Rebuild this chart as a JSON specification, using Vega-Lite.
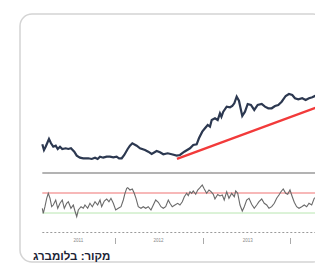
{
  "$schema": "https://vega.github.io/schema/vega-lite/v6.json",
  "width": 315,
  "height": 269,
  "autosize": {"type": "fit", "contains": "padding"},
  "padding": {"left": 20, "top": 14, "right": -10, "bottom": 7},
  "background": "white",
  "config": {
    "view": {"stroke": "#d4d4d4", "strokeWidth": 1.5, "cornerRadius": 12}
  },
  "datasets": {
    "price": [
      {"t": 2011.170, "v": 82.81}, {"t": 2011.189, "v": 80.39}, {"t": 2011.208, "v": 81.79}, {"t": 2011.246, "v": 85.06},
      {"t": 2011.269, "v": 83.24}, {"t": 2011.295, "v": 81.79}, {"t": 2011.323, "v": 82.22}, {"t": 2011.346, "v": 80.82},
      {"t": 2011.372, "v": 81.79}, {"t": 2011.398, "v": 80.82}, {"t": 2011.437, "v": 81.12}, {"t": 2011.467, "v": 80.82},
      {"t": 2011.497, "v": 81.12}, {"t": 2011.535, "v": 79.67}, {"t": 2011.563, "v": 77.98}, {"t": 2011.600, "v": 77.13},
      {"t": 2011.638, "v": 76.87}, {"t": 2011.695, "v": 76.87}, {"t": 2011.734, "v": 76.58}, {"t": 2011.772, "v": 77.13},
      {"t": 2011.802, "v": 76.58}, {"t": 2011.829, "v": 77.55}, {"t": 2011.866, "v": 77.13}, {"t": 2011.905, "v": 77.55},
      {"t": 2011.943, "v": 77.55}, {"t": 2011.981, "v": 77.30}, {"t": 2012.019, "v": 77.55}, {"t": 2012.046, "v": 76.87},
      {"t": 2012.077, "v": 76.87}, {"t": 2012.106, "v": 78.27}, {"t": 2012.145, "v": 80.82}, {"t": 2012.171, "v": 82.22},
      {"t": 2012.198, "v": 83.24}, {"t": 2012.248, "v": 82.22}, {"t": 2012.286, "v": 81.12}, {"t": 2012.343, "v": 80.39},
      {"t": 2012.380, "v": 79.67}, {"t": 2012.419, "v": 78.70}, {"t": 2012.476, "v": 79.97}, {"t": 2012.514, "v": 79.42},
      {"t": 2012.552, "v": 78.57}, {"t": 2012.602, "v": 78.99}, {"t": 2012.648, "v": 78.57}, {"t": 2012.705, "v": 77.98},
      {"t": 2012.742, "v": 78.27}, {"t": 2012.792, "v": 79.67}, {"t": 2012.857, "v": 81.12}, {"t": 2012.894, "v": 82.52},
      {"t": 2012.933, "v": 82.81}, {"t": 2012.959, "v": 85.36}, {"t": 2012.997, "v": 88.16}, {"t": 2013.028, "v": 89.60},
      {"t": 2013.059, "v": 91.00}, {"t": 2013.085, "v": 90.28}, {"t": 2013.105, "v": 93.12}, {"t": 2013.142, "v": 93.84},
      {"t": 2013.173, "v": 93.12}, {"t": 2013.199, "v": 95.97}, {"t": 2013.216, "v": 94.52}, {"t": 2013.237, "v": 96.64},
      {"t": 2013.276, "v": 98.77}, {"t": 2013.314, "v": 98.51}, {"t": 2013.340, "v": 99.06}, {"t": 2013.363, "v": 100.21},
      {"t": 2013.390, "v": 103.01}, {"t": 2013.416, "v": 101.31}, {"t": 2013.439, "v": 97.37}, {"t": 2013.454, "v": 94.82},
      {"t": 2013.485, "v": 96.64}, {"t": 2013.516, "v": 99.91}, {"t": 2013.553, "v": 99.49}, {"t": 2013.591, "v": 97.37},
      {"t": 2013.630, "v": 99.49}, {"t": 2013.676, "v": 99.91}, {"t": 2013.713, "v": 98.77}, {"t": 2013.751, "v": 98.09},
      {"t": 2013.790, "v": 98.09}, {"t": 2013.828, "v": 99.06}, {"t": 2013.865, "v": 99.49}, {"t": 2013.904, "v": 100.89},
      {"t": 2013.950, "v": 103.31}, {"t": 2013.987, "v": 104.16}, {"t": 2014.025, "v": 103.73}, {"t": 2014.056, "v": 102.33},
      {"t": 2014.094, "v": 101.91}, {"t": 2014.139, "v": 102.33}, {"t": 2014.178, "v": 101.61}, {"t": 2014.216, "v": 102.33},
      {"t": 2014.254, "v": 102.75}, {"t": 2014.284, "v": 103.31}, {"t": 2014.342, "v": 102.88}, {"t": 2014.399, "v": 102.46}
    ],
    "trend": [
      {"t": 2012.708, "v": 76.58}, {"t": 2014.399, "v": 99.79}
    ],
    "rsi": [
      {"t": 2011.170, "r": 39.4}, {"t": 2011.181, "r": 29.4}, {"t": 2011.200, "r": 42.6}, {"t": 2011.220, "r": 59.4},
      {"t": 2011.238, "r": 69.4}, {"t": 2011.258, "r": 59.4}, {"t": 2011.277, "r": 42.6}, {"t": 2011.295, "r": 46},
      {"t": 2011.323, "r": 56}, {"t": 2011.346, "r": 39.4}, {"t": 2011.372, "r": 49.4}, {"t": 2011.398, "r": 56},
      {"t": 2011.421, "r": 39.4}, {"t": 2011.448, "r": 49.4}, {"t": 2011.467, "r": 52.6}, {"t": 2011.497, "r": 39.4},
      {"t": 2011.524, "r": 46}, {"t": 2011.543, "r": 34}, {"t": 2011.563, "r": 22.6}, {"t": 2011.581, "r": 36},
      {"t": 2011.612, "r": 42.6}, {"t": 2011.638, "r": 39.4}, {"t": 2011.657, "r": 46}, {"t": 2011.688, "r": 39.4},
      {"t": 2011.714, "r": 49.4}, {"t": 2011.741, "r": 42.6}, {"t": 2011.772, "r": 52.6}, {"t": 2011.802, "r": 46},
      {"t": 2011.829, "r": 56}, {"t": 2011.848, "r": 42.6}, {"t": 2011.878, "r": 54}, {"t": 2011.905, "r": 58},
      {"t": 2011.931, "r": 52.6}, {"t": 2011.954, "r": 59.4}, {"t": 2011.981, "r": 49.4}, {"t": 2012.008, "r": 36},
      {"t": 2012.038, "r": 39.4}, {"t": 2012.069, "r": 42.6}, {"t": 2012.095, "r": 56}, {"t": 2012.114, "r": 69.4},
      {"t": 2012.134, "r": 79.4}, {"t": 2012.145, "r": 80.6}, {"t": 2012.171, "r": 76}, {"t": 2012.198, "r": 78},
      {"t": 2012.220, "r": 69.4}, {"t": 2012.240, "r": 59.4}, {"t": 2012.266, "r": 42.6}, {"t": 2012.297, "r": 39.4},
      {"t": 2012.323, "r": 42.6}, {"t": 2012.351, "r": 39.4}, {"t": 2012.380, "r": 42.6}, {"t": 2012.411, "r": 36},
      {"t": 2012.438, "r": 46}, {"t": 2012.465, "r": 56}, {"t": 2012.495, "r": 51.4}, {"t": 2012.525, "r": 42.6},
      {"t": 2012.552, "r": 39.4}, {"t": 2012.579, "r": 42.6}, {"t": 2012.609, "r": 56}, {"t": 2012.628, "r": 49.4},
      {"t": 2012.654, "r": 42.6}, {"t": 2012.685, "r": 46}, {"t": 2012.716, "r": 49.4}, {"t": 2012.742, "r": 46},
      {"t": 2012.769, "r": 52.6}, {"t": 2012.792, "r": 62.6}, {"t": 2012.819, "r": 69.4}, {"t": 2012.837, "r": 64.6},
      {"t": 2012.857, "r": 72.6}, {"t": 2012.876, "r": 69.4}, {"t": 2012.894, "r": 74}, {"t": 2012.922, "r": 67.4},
      {"t": 2012.945, "r": 76}, {"t": 2012.971, "r": 80.6}, {"t": 2012.997, "r": 86}, {"t": 2013.020, "r": 78},
      {"t": 2013.047, "r": 69.4}, {"t": 2013.074, "r": 76}, {"t": 2013.097, "r": 72.6}, {"t": 2013.123, "r": 67.4},
      {"t": 2013.142, "r": 58}, {"t": 2013.173, "r": 67}, {"t": 2013.199, "r": 64}, {"t": 2013.226, "r": 66},
      {"t": 2013.248, "r": 56}, {"t": 2013.276, "r": 72.6}, {"t": 2013.302, "r": 59.4}, {"t": 2013.333, "r": 69.4},
      {"t": 2013.363, "r": 62.6}, {"t": 2013.379, "r": 74}, {"t": 2013.402, "r": 69.4}, {"t": 2013.428, "r": 46},
      {"t": 2013.454, "r": 34}, {"t": 2013.477, "r": 42.6}, {"t": 2013.504, "r": 56}, {"t": 2013.531, "r": 59.4},
      {"t": 2013.561, "r": 47.4}, {"t": 2013.591, "r": 39.4}, {"t": 2013.619, "r": 46}, {"t": 2013.645, "r": 52.6},
      {"t": 2013.676, "r": 58}, {"t": 2013.705, "r": 49.4}, {"t": 2013.733, "r": 46}, {"t": 2013.759, "r": 39.4},
      {"t": 2013.790, "r": 42.6}, {"t": 2013.820, "r": 49.4}, {"t": 2013.847, "r": 59.4}, {"t": 2013.873, "r": 66},
      {"t": 2013.896, "r": 72.6}, {"t": 2013.922, "r": 78}, {"t": 2013.950, "r": 69.4}, {"t": 2013.973, "r": 67.4},
      {"t": 2013.999, "r": 76}, {"t": 2014.025, "r": 62.6}, {"t": 2014.048, "r": 51.4}, {"t": 2014.075, "r": 42.6},
      {"t": 2014.102, "r": 39.4}, {"t": 2014.133, "r": 42.6}, {"t": 2014.162, "r": 46}, {"t": 2014.190, "r": 42.6},
      {"t": 2014.216, "r": 49.4}, {"t": 2014.247, "r": 46}, {"t": 2014.276, "r": 59.4}, {"t": 2014.319, "r": 64},
      {"t": 2014.399, "r": 56}
    ],
    "levels": [
      {"level": 110, "kind": "separator"},
      {"level": 70, "kind": "overbought"},
      {"level": 30, "kind": "oversold"}
    ]
  },
  "resolve": {"scale": {"y": "independent"}},
  "layer": [
    {
      "data": {"name": "price"},
      "mark": {"type": "line", "color": "#2c3850", "strokeWidth": 2.2, "clip": true},
      "encoding": {
        "x": {
          "field": "t", "type": "quantitative",
          "scale": {"domain": [2010.915, 2014.399], "nice": false, "zero": false},
          "axis": {
            "offset": -29.5,
            "domain": false,
            "grid": false,
            "values": [2011.577, 2012, 2012.49, 2013, 2013.51, 2014],
            "labelExpr": "datum.value == floor(datum.value) ? '' : '' + floor(datum.value)",
            "labelFontSize": 4.5,
            "labelColor": "#888888",
            "labelPadding": -6,
            "labelBaseline": "top",
            "tickSize": 11,
            "tickColor": "#aaaaaa",
            "tickDash": [0, 5, 6],
            "tickOpacity": {"condition": {"test": "datum.value == floor(datum.value)", "value": 1}, "value": 0},
            "title": "מקור: בלומברג",
            "titleFont": "Liberation Sans, DejaVu Sans",
            "titleFontSize": 11.5,
            "titleFontWeight": "bold",
            "titleColor": "#1c2436",
            "titleAnchor": "start",
            "titleAlign": "left",
            "titleBaseline": "middle",
            "titleX": 12.5,
            "titleY": 23.5
          }
        },
        "y": {
          "field": "v", "type": "quantitative",
          "scale": {"domain": [32.87, 138.09], "nice": false, "zero": false},
          "axis": null
        }
      }
    },
    {
      "data": {"name": "trend"},
      "mark": {"type": "line", "color": "#f23a3a", "strokeWidth": 2.4, "clip": true},
      "encoding": {
        "x": {"field": "t", "type": "quantitative"},
        "y": {
          "field": "v", "type": "quantitative",
          "scale": {"domain": [32.87, 138.09], "nice": false, "zero": false},
          "axis": null
        }
      }
    },
    {
      "data": {"name": "levels"},
      "mark": {"type": "rule", "clip": true},
      "encoding": {
        "x": {"datum": 2011.17, "type": "quantitative"},
        "x2": {"datum": 2014.399},
        "y": {
          "field": "level", "type": "quantitative",
          "scale": {"domain": [-68, 428], "nice": false, "zero": false},
          "axis": null
        },
        "color": {
          "field": "kind", "type": "nominal",
          "scale": {"domain": ["separator", "overbought", "oversold"], "range": ["#b3b3b3", "#f4a0a0", "#b8e6b0"]},
          "legend": null
        },
        "strokeWidth": {
          "field": "kind", "type": "nominal",
          "scale": {"domain": ["separator", "overbought", "oversold"], "range": [2.2, 1, 1]},
          "legend": null
        }
      }
    },
    {
      "data": {"values": [{"level": -9}]},
      "mark": {"type": "rule", "color": "#9a9a9a", "strokeWidth": 1, "strokeDash": [2, 2], "clip": true},
      "encoding": {
        "x": {"datum": 2011.17, "type": "quantitative"},
        "x2": {"datum": 2014.399},
        "y": {
          "field": "level", "type": "quantitative",
          "scale": {"domain": [-68, 428], "nice": false, "zero": false},
          "axis": null
        }
      }
    },
    {
      "data": {"name": "rsi"},
      "mark": {"type": "line", "color": "#6a6a6a", "strokeWidth": 1.1, "clip": true},
      "encoding": {
        "x": {"field": "t", "type": "quantitative"},
        "y": {
          "field": "r", "type": "quantitative",
          "scale": {"domain": [-68, 428], "nice": false, "zero": false},
          "axis": null
        }
      }
    }
  ]
}
